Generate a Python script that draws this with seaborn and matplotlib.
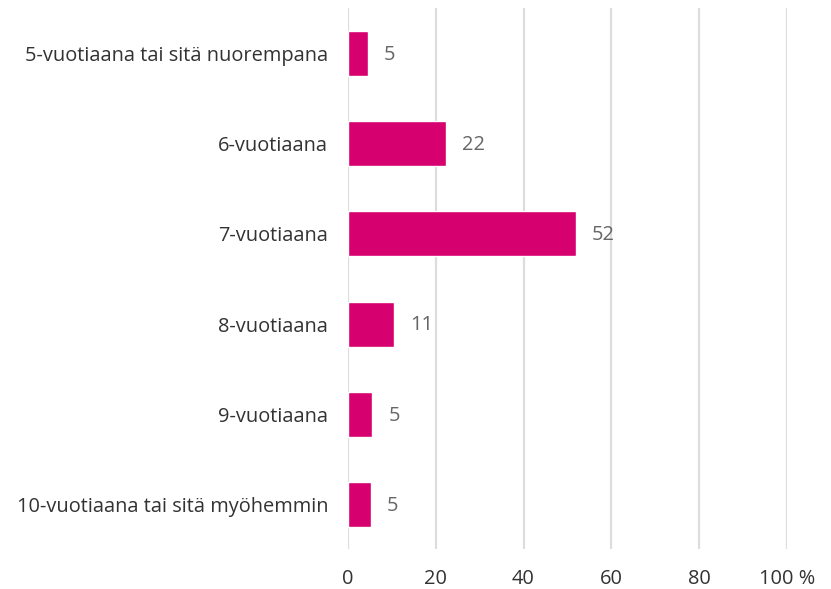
import matplotlib
matplotlib.use("Agg")
import matplotlib.pyplot as plt
import seaborn as sns
import pandas as pd

categories = [
    "5-vuotiaana tai sitä nuorempana",
    "6-vuotiaana",
    "7-vuotiaana",
    "8-vuotiaana",
    "9-vuotiaana",
    "10-vuotiaana tai sitä myöhemmin",
]
values = [4.6, 22.4, 51.9, 10.6, 5.6, 5.3]
value_labels = ["5", "22", "52", "11", "5", "5"]
x_ticks = [0, 20, 40, 60, 80, 100]
x_tick_labels = ["0", "20", "40", "60", "80", "100 %"]

df = pd.DataFrame({"category": categories, "value": values})

sns.set_style("white")
plt.rcParams["font.family"] = ["Open Sans", "DejaVu Sans"]

fig = plt.figure(figsize=(8.31, 5.89), dpi=100)
ax = fig.add_axes([0.4184, 0.0671, 0.529, 0.9185])

sns.barplot(data=df, x="value", y="category", color="#D6006F", width=0.5,
            saturation=1, ax=ax)

ax.set_xlim(0, 100)
ax.set_xticks(x_ticks)
ax.set_xticklabels(x_tick_labels)
ax.grid(axis="x", color="#DDDDDD", linewidth=1.6)
ax.set_axisbelow(True)
for s in ax.spines.values():
    s.set_visible(False)
ax.set_xlabel("")
ax.set_ylabel("")
ax.tick_params(axis="y", length=0, pad=14, labelsize=14.4, labelcolor="#333333")
ax.tick_params(axis="x", length=0, pad=14, labelsize=14.4, labelcolor="#333333")

for i, (v, lab) in enumerate(zip(values, value_labels)):
    ax.annotate(lab, xy=(v, i), xytext=(11.5, -1), textcoords="offset points",
                ha="left", va="center", fontsize=14.4, color="#666666")

fig.savefig("out.png", dpi=100)
